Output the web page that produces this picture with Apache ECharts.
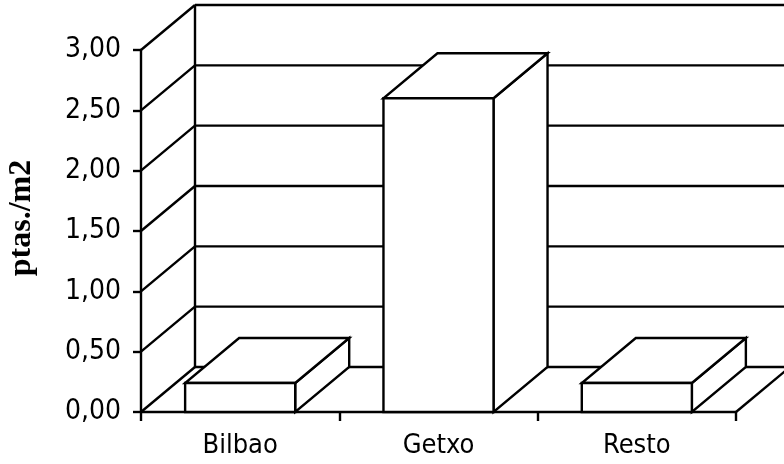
<!DOCTYPE html>
<html>
<head>
<meta charset="utf-8">
<script src="https://cdn.jsdelivr.net/npm/echarts@6/dist/echarts.min.js"></script>
<style>
  html, body { margin: 0; padding: 0; background: #fff; }
  #chart { width: 784px; height: 464px; }
</style>
</head>
<body>
<div id="chart"></div>
<script>
// Price per square metre by area
const categories = ['Bilbao', 'Getxo', 'Resto'];
const values = [0.24, 2.60, 0.24];
const yTicks = [0, 0.5, 1, 1.5, 2, 2.5, 3];
const yAxisTitle = 'ptas./m2';

// Oblique depth offset of the 3-D box (pixels)
const DX = 54;
const DY = -45;
const LW = 2.4;
const LINE = { stroke: '#000', lineWidth: LW, fill: null };
const FACE = { stroke: '#000', lineWidth: LW, fill: '#fff', lineJoin: 'miter' };

function line(x1, y1, x2, y2) {
  return { type: 'line', shape: { x1, y1, x2, y2 }, style: LINE };
}

// Back wall, side wall and floor
function renderWalls(params, api) {
  const cs = params.coordSys;
  const v = api.value(0);
  const p = api.coord([0, v]);
  const left = cs.x, right = cs.x + cs.width;
  const y = p[1];
  const children = [
    line(left, y, left + DX, y + DY),                 // side wall line
    line(left + DX, y + DY, right + DX, y + DY)       // back wall line
  ];
  if (params.dataIndex === 0) {
    const yTop = api.coord([0, yTicks[yTicks.length - 1]])[1];
    children.push(line(left + DX, yTop + DY, left + DX, y + DY)); // back corner
    children.push(line(right, y, right + DX, y + DY));            // floor right edge
  }
  return { type: 'group', children };
}

// Box columns: front, top and right side faces
function renderBars(params, api) {
  const i = api.value(0);
  const v = api.value(1);
  const base = api.coord([i, 0]);
  const top = api.coord([i, v]);
  const bw = api.size([1, 0])[0] * 0.555;
  const x0 = top[0] - bw / 2, x1 = x0 + bw;
  const ty = top[1], by = base[1];
  return {
    type: 'group',
    children: [
      { type: 'polygon', shape: { points: [[x1, ty], [x1 + DX, ty + DY], [x1 + DX, by + DY], [x1, by]] }, style: FACE },
      { type: 'polygon', shape: { points: [[x0, ty], [x1, ty], [x1 + DX, ty + DY], [x0 + DX, ty + DY]] }, style: FACE },
      { type: 'rect', shape: { x: x0, y: ty, width: bw, height: by - ty }, style: FACE }
    ]
  };
}

const chart = echarts.init(document.getElementById('chart'), null, { renderer: 'canvas' });
chart.setOption({
  animation: false,
  backgroundColor: '#fff',
  grid: {
    left: 141, top: 50, right: 48, bottom: 52,
    containLabel: false,
    outerBoundsMode: 'none'
  },
  xAxis: {
    type: 'category',
    data: categories,
    boundaryGap: true,
    axisLine: { lineStyle: { color: '#000', width: LW } },
    axisTick: { show: true, length: 9, lineStyle: { color: '#000', width: LW } },
    axisLabel: { color: '#000', fontFamily: 'DejaVu Sans Condensed', fontSize: 27, margin: 20 },
    splitLine: { show: false }
  },
  yAxis: {
    type: 'value',
    min: 0, max: 3, interval: 0.5,
    name: yAxisTitle,
    nameLocation: 'middle',
    nameRotate: 90,
    nameGap: 103,
    nameTextStyle: {
      color: '#000', fontFamily: 'Liberation Serif', fontWeight: 'bold', fontSize: 32,
      padding: [0, 0, 0, 26]
    },
    axisLine: { show: true, lineStyle: { color: '#000', width: LW } },
    axisTick: { show: true, length: 8, lineStyle: { color: '#000', width: LW } },
    axisLabel: {
      color: '#000', fontFamily: 'DejaVu Sans Condensed', fontSize: 28, margin: 20,
      formatter: (val) => val.toFixed(2).replace('.', ',')
    },
    splitLine: { show: false }
  },
  series: [
    {
      type: 'custom',
      name: 'walls',
      clip: false,
      z: 1,
      silent: true,
      renderItem: renderWalls,
      data: yTicks.map(t => [t])
    },
    {
      type: 'custom',
      name: 'ptas./m2',
      clip: false,
      z: 2,
      renderItem: renderBars,
      encode: { x: 0, y: 1 },
      data: values.map((v, i) => [i, v])
    }
  ]
});
</script>
</body>
</html>
